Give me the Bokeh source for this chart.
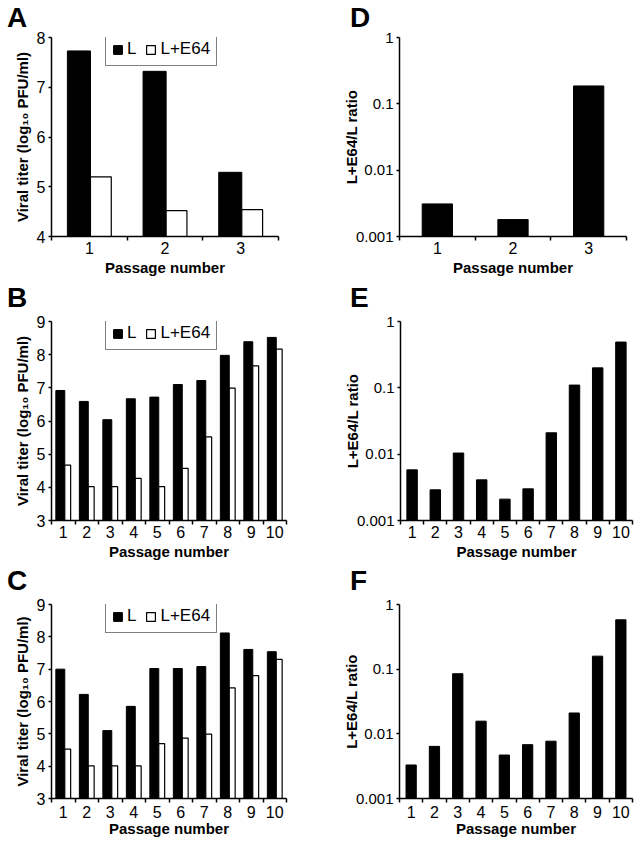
from bokeh.plotting import figure
from bokeh.layouts import column, row
from bokeh.models import (Range1d, FixedTicker, CustomJSTickFormatter, Legend,
                          LegendItem, ColumnDataSource, Div)
from bokeh.transform import dodge
from bokeh.embed import file_html
from bokeh.resources import INLINE

# ---------------- data ----------------
passages_A = [1, 2, 3]
titer_L_A = [7.73, 7.32, 5.29]
titer_E64_A = [5.20, 4.52, 4.54]
ratio_D = [0.0031, 0.0018, 0.186]

passages_B = [1, 2, 3, 4, 5, 6, 7, 8, 9, 10]
titer_L_B = [6.92, 6.59, 6.04, 6.67, 6.72, 7.10, 7.22, 7.98, 8.39, 8.52]
titer_E64_B = [4.67, 4.02, 4.02, 4.27, 4.02, 4.57, 5.52, 6.99, 7.66, 8.17]
ratio_E = [0.0058, 0.0029, 0.0104, 0.0041, 0.0021, 0.0030, 0.021, 0.11, 0.20, 0.49]

passages_C = [1, 2, 3, 4, 5, 6, 7, 8, 9, 10]
titer_L_C = [7.00, 6.22, 5.10, 5.85, 7.02, 7.02, 7.08, 8.12, 7.61, 7.54]
titer_E64_C = [4.53, 4.01, 4.01, 4.01, 4.70, 4.87, 4.99, 6.42, 6.80, 7.30]
ratio_F = [0.0033, 0.0064, 0.085, 0.0157, 0.0047, 0.0068, 0.0077, 0.021, 0.159, 0.58]

titer_ticks_A = [4, 5, 6, 7, 8]
titer_ticks_BC = [3, 4, 5, 6, 7, 8, 9]
ratio_ticks = [0.001, 0.01, 0.1, 1]

series_labels = ["L", "L+E64"]
panel_letters = [["A", "D"], ["B", "E"], ["C", "F"]]
x_title = "Passage number"
titer_title = "Viral titer (log\u2081\u2080 PFU/ml)"
ratio_title = "L+E64/L ratio"

FONT = "Liberation Sans"
LEFT_W, RIGHT_W = 330, 311


def base_fig(width, height, borders, x_range, y_range, y_log=False):
    left, right, top, bottom = borders
    p = figure(width=width, height=height, x_range=x_range, y_range=y_range,
               y_axis_type="log" if y_log else "linear",
               output_backend="svg", toolbar_location=None,
               min_border_left=left, min_border_right=right,
               min_border_top=top, min_border_bottom=bottom)
    p.outline_line_color = None
    p.grid.visible = False
    p.background_fill_color = "white"
    p.border_fill_color = "white"
    return p


def letter_div(letter, width, height, pad_left, pad_top):
    return Div(text=letter, width=width, height=height, margin=0,
               styles={"font-family": FONT, "font-size": "28px",
                       "font-weight": "bold", "line-height": "28px",
                       "color": "black", "padding-left": f"{pad_left}px",
                       "padding-top": f"{pad_top}px", "box-sizing": "border-box",
                       "overflow": "visible", "background": "white"})


def letter_strip(letters, height, pads):
    (l1, t1), (l2, t2) = pads
    return row(letter_div(letters[0], LEFT_W, height, l1, t1),
               letter_div(letters[1], RIGHT_W, height, l2, t2), spacing=0)


def style_axes(p, passages, yticks, ylabel, x_std, xl_std, yl_std, ytick_size):
    xa = p.xaxis[0]
    ya = p.yaxis[0]
    bounds = [v - 0.5 for v in passages] + [passages[-1] + 0.5]
    xa.ticker = FixedTicker(ticks=passages, minor_ticks=bounds)
    ya.ticker = FixedTicker(ticks=yticks, minor_ticks=[])
    for ax in (xa, ya):
        ax.axis_line_color = "black"
        ax.axis_line_width = 1.5
        ax.major_label_text_font = FONT
        ax.major_label_text_font_size = "16px"
        ax.major_label_text_color = "black"
        ax.axis_label_text_font = FONT
        ax.axis_label_text_font_size = "15px"
        ax.axis_label_text_font_style = "bold"
        ax.axis_label_text_color = "black"
        ax.major_tick_line_color = "black"
        ax.major_tick_line_width = 1.5
        ax.minor_tick_line_color = "black"
        ax.minor_tick_line_width = 1.5
    ya.major_label_text_font_size = ytick_size
    xa.major_tick_out = 0
    xa.major_tick_in = 0
    xa.minor_tick_out = 4
    xa.minor_tick_in = 0
    xa.major_label_standoff = x_std
    xa.axis_label = x_title
    xa.axis_label_standoff = xl_std
    ya.major_tick_out = 3
    ya.major_tick_in = 0
    ya.minor_tick_line_color = None
    ya.major_label_standoff = 3
    ya.axis_label = ylabel
    ya.axis_label_standoff = yl_std


def titer_panel(passages, L, E, yticks, width, height, borders, bar_geom,
                legend_top_off, x_std, xl_std):
    y_lo, y_hi = yticks[0], yticks[-1]
    p = base_fig(width, height, borders,
                 Range1d(passages[0] - 0.5, passages[-1] + 0.5), Range1d(y_lo, y_hi))
    frame_h = height - borders[2] - borders[3]
    src = ColumnDataSource(dict(x=passages, L=L, E=E))
    wL, oL, wE, oE = bar_geom
    rL = p.vbar(x=dodge("x", oL), top="L", bottom=y_lo, width=wL, source=src,
                fill_color="black", line_color="black", line_width=1)
    rE = p.vbar(x=dodge("x", oE), top="E", bottom=y_lo, width=wE, source=src,
                fill_color="white", line_color="black", line_width=1.2)
    style_axes(p, passages, yticks, titer_title, x_std, xl_std, 3, "16px")
    leg_h = 28
    leg = Legend(items=[LegendItem(label=series_labels[0], renderers=[rL]),
                        LegendItem(label=series_labels[1], renderers=[rE])],
                 location=(54, frame_h - legend_top_off - leg_h),
                 orientation="horizontal",
                 glyph_width=11, glyph_height=11, label_standoff=4, spacing=9,
                 padding=6, margin=0, label_width=1, label_height=16,
                 border_line_color="black", border_line_width=1.5,
                 background_fill_color="white", background_fill_alpha=1.0,
                 label_text_font=FONT, label_text_font_size="17px",
                 label_text_color="black")
    p.add_layout(leg)
    return p


def ratio_panel(passages, R, width, height, borders, bar_w, x_std, xl_std):
    p = base_fig(width, height, borders,
                 Range1d(passages[0] - 0.5, passages[-1] + 0.5),
                 Range1d(ratio_ticks[0], ratio_ticks[-1]), y_log=True)
    src = ColumnDataSource(dict(x=passages, r=R))
    p.vbar(x="x", top="r", bottom=ratio_ticks[0], width=bar_w, source=src,
           fill_color="black", line_color="black")
    style_axes(p, passages, ratio_ticks, ratio_title, x_std, xl_std, -7, "15px")
    p.yaxis[0].formatter = CustomJSTickFormatter(code="return String(tick);")
    return p


# letter strips: height, ((pad_left, pad_top) for left letter, for right letter)
s1 = letter_strip(panel_letters[0], 28, ((7, 4), (20, 4)))
s2 = letter_strip(panel_letters[1], 25, ((7, 0), (20, 0)))
s3 = letter_strip(panel_letters[2], 26, ((7, 0), (20, 0)))

# borders: (left, right, top, bottom)
pA = titer_panel(passages_A, titer_L_A, titer_E64_A, titer_ticks_A, LEFT_W, 256,
                 (51, 52, 9, 48), (0.305, -0.1375, 0.275, 0.1525), 1, 1, 2)
pD = ratio_panel(passages_A, ratio_D, RIGHT_W, 256, (69, 15, 9, 48), 0.4, 1, 2)

pB = titer_panel(passages_B, titer_L_B, titer_E64_B, titer_ticks_BC, LEFT_W, 258,
                 (51, 44, 12, 47), (0.38, -0.125, 0.25, 0.19), 1, 1, 2)
pE = ratio_panel(passages_B, ratio_E, RIGHT_W, 258, (70, 9, 12, 47), 0.45, 1, 2)

pC = titer_panel(passages_C, titer_L_C, titer_E64_C, titer_ticks_BC, LEFT_W, 249,
                 (51, 44, 11, 44), (0.38, -0.125, 0.25, 0.19), 1, 3, -1)
pF = ratio_panel(passages_C, ratio_F, RIGHT_W, 249, (69, 9, 11, 44), 0.44, 3, -1)

layout = column(s1, row(pA, pD), s2, row(pB, pE), s3, row(pC, pF))

open("out.html", "w").write(file_html(layout, INLINE))
